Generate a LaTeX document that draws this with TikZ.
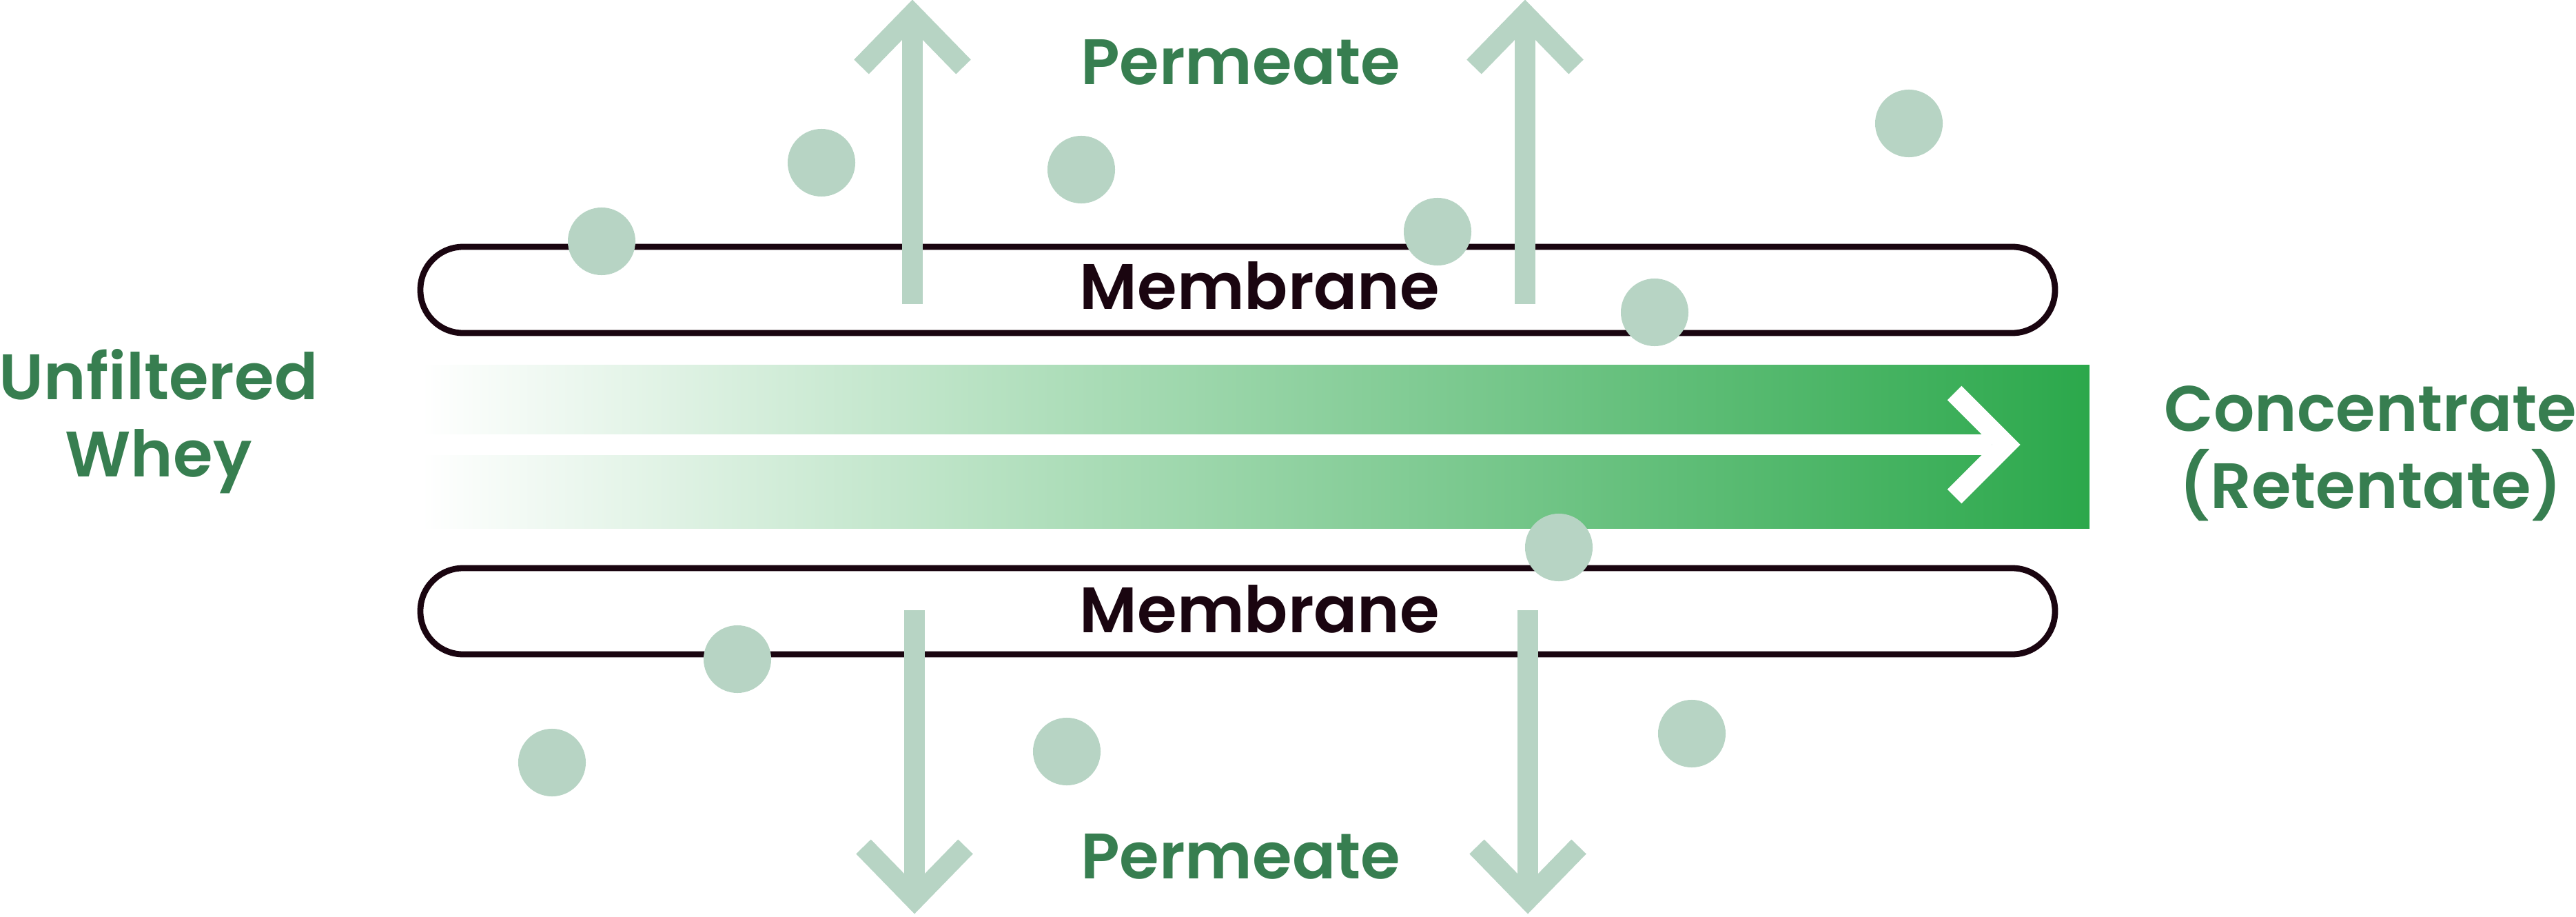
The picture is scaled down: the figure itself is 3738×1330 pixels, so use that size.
\documentclass[tikz,border=0pt]{standalone}
\usepackage{fontspec}
\setmainfont{Poppins}[BoldFont={Poppins SemiBold}]
\definecolor{wheygreen}{HTML}{377E50}
\definecolor{mint}{HTML}{B7D4C4}
\definecolor{membraneink}{HTML}{1A0510}
\definecolor{flowmid}{HTML}{8DD09D}
\definecolor{flowend}{HTML}{2BA84B}

\begin{document}
\begin{tikzpicture}[x=0.01cm,y=-0.01cm,
  membrane/.style={draw=membraneink, line width=0.088cm, rounded corners=0.62cm},
  permeate/.style={draw=mint, line width=0.3cm},
  label/.style={font=\fontsize{26.5}{31.6}\selectfont\bfseries, text=wheygreen, align=center, inner sep=0pt}]
\path[use as bounding box] (0,0) rectangle (3738,1330);
\shade[left color=white, middle color=flowmid, right color=flowend] (611,529) rectangle (3032,766);
\draw[white, line width=0.29cm] (611,645) -- (2890,645);
\draw[white, line width=0.29cm] (2836,570) -- (2911,645) -- (2836,720);
\draw[membrane] (610,358) rectangle (2982,483);
\draw[membrane] (610,824) rectangle (2982,949);
\foreach \x in {1324,2213} {
  \draw[permeate] (\x,441) -- (\x,30);
  \draw[permeate] (\x-74,97) -- (\x,21) -- (\x+74,97);
}
\foreach \x in {1327,2217} {
  \draw[permeate] (\x,885) -- (\x,1295);
  \draw[permeate] (\x-74,1228) -- (\x,1304) -- (\x+74,1228);
}
\foreach \px/\py in {873/350,1192/236,1569/246,2086/336,2770/179,2401/453,2262/794,1070/956,801/1106,1548/1090,2455/1064}
  \fill[mint] (\px,\py) circle (0.49cm);
\node[label, anchor=base] (permeatetop) at (1800,123) {Permeate};
\node[label, anchor=base] (permeatebottom) at (1800,1274) {Permeate};
\node[label, text=membraneink, anchor=base] (membranetop) at (1828,448) {Membrane};
\node[label, text=membraneink, anchor=base] (membranebottom) at (1828,917) {Membrane};
\node[label, anchor=base] (whey) at (230,691) {Unfiltered\\Whey};
\node[label, anchor=base] (retentate) at (3440,737) {Concentrate\\(Retentate)};
\end{tikzpicture}
\end{document}
